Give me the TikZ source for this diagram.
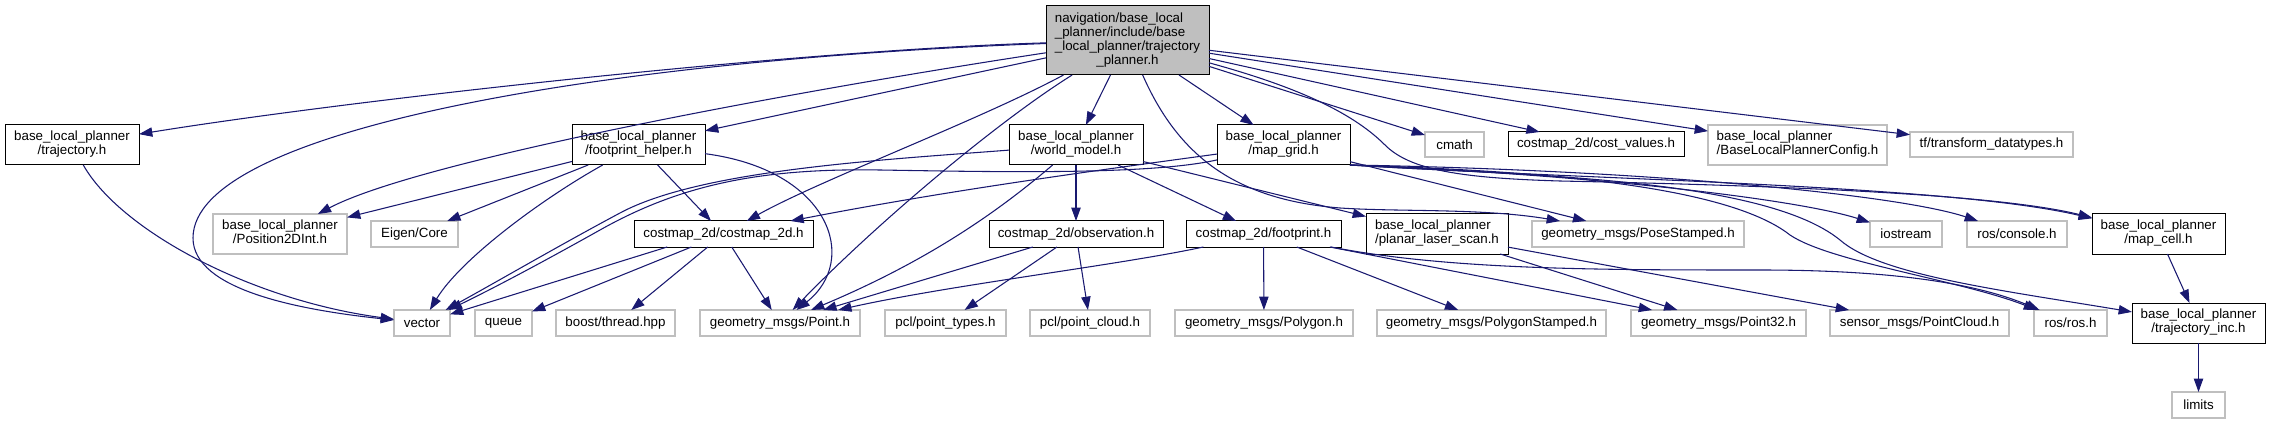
\documentclass[tikz,border=0pt]{standalone}
\usepackage{fontspec}
\setmainfont{Liberation Sans}
\usetikzlibrary{arrows.meta}
\definecolor{edgeblue}{HTML}{191970}
\definecolor{grey75}{HTML}{BFBFBF}
\newcommand{\hdrlines}[2]{\begin{tabular}{@{}l@{}}#1\\\multicolumn{1}{@{}c@{}}{#2}\end{tabular}}

\begin{document}
\begin{tikzpicture}[x=0.75pt,y=-0.75pt,
  hdr/.style 2 args={draw,rectangle,inner sep=0pt,outer sep=0pt,
    minimum width=#1*0.75pt,minimum height=#2*0.75pt,
    font=\fontsize{10}{10.5}\selectfont},
  doc/.style={draw=black,line width=0.75pt},
  ext/.style={draw=grey75,line width=1pt},
  dep/.style={edgeblue,line width=0.8pt,-{Triangle[length=10pt,width=7pt]}}]
\useasboundingbox (0,0) rectangle (2271,424);

\node[hdr={163}{69},doc,fill=grey75] (main) at (1127.5,40.5)
  {\hdrlines{navigation/base\_local\\\_planner/include/base\\\_local\_planner/trajectory}{\_planner.h}};

\node[hdr={134}{40},doc] (traj) at (72,145) {\hdrlines{base\_local\_planner}{/trajectory.h}};
\node[hdr={133}{40},doc] (fphelper) at (638.5,145) {\hdrlines{base\_local\_planner}{/footprint\_helper.h}};
\node[hdr={134}{40},doc] (world) at (1076,145) {\hdrlines{base\_local\_planner}{/world\_model.h}};
\node[hdr={133}{40},doc] (mapgrid) at (1283.5,145) {\hdrlines{base\_local\_planner}{/map\_grid.h}};
\node[hdr={59}{25},ext] (cmath) at (1454.5,144.5) {cmath};
\node[hdr={176}{25},doc] (costval) at (1596,144.5) {costmap\_2d/cost\_values.h};
\node[hdr={179}{40},ext] (blpconf) at (1797.5,145) {\hdrlines{base\_local\_planner}{/BaseLocalPlannerConfig.h}};
\node[hdr={163}{25},ext] (tfdata) at (1991.5,144.5) {tf/transform\_datatypes.h};

\node[hdr={134}{40},ext] (pos2d) at (280,234) {\hdrlines{base\_local\_planner}{/Position2DInt.h}};
\node[hdr={87}{26},ext] (eigen) at (414.5,234) {Eigen/Core};
\node[hdr={179}{26},doc] (costmap) at (723.5,234) {costmap\_2d/costmap\_2d.h};
\node[hdr={174}{26},doc] (observ) at (1076,234) {costmap\_2d/observation.h};
\node[hdr={155}{26},doc] (footprint) at (1263.5,234) {costmap\_2d/footprint.h};
\node[hdr={142}{40},doc] (planar) at (1437,234) {\hdrlines{base\_local\_planner}{/planar\_laser\_scan.h}};
\node[hdr={212}{26},ext] (posestamp) at (1638,234) {geometry\_msgs/PoseStamped.h};
\node[hdr={72}{26},ext] (iostream) at (1906,234) {iostream};
\node[hdr={100}{26},ext] (console) at (2017,234) {ros/console.h};
\node[hdr={133}{40},doc] (mapcell) at (2158.5,234) {\hdrlines{base\_local\_planner}{/map\_cell.h}};

\node[hdr={56}{26},ext] (vec) at (422,323) {vector};
\node[hdr={57}{26},ext] (queue) at (503.5,323) {queue};
\node[hdr={119}{26},ext] (boost) at (615.5,323) {boost/thread.hpp};
\node[hdr={160}{26},ext] (point) at (780,323) {geometry\_msgs/Point.h};
\node[hdr={121}{26},ext] (ptypes) at (945.5,323) {pcl/point\_types.h};
\node[hdr={120}{26},ext] (pcloud) at (1090,323) {pcl/point\_cloud.h};
\node[hdr={178}{26},ext] (polygon) at (1264,323) {geometry\_msgs/Polygon.h};
\node[hdr={229}{26},ext] (polystamp) at (1491.5,323) {geometry\_msgs/PolygonStamped.h};
\node[hdr={175}{26},ext] (point32) at (1718.5,323) {geometry\_msgs/Point32.h};
\node[hdr={179}{26},ext] (sensorpc) at (1919.5,323) {sensor\_msgs/PointCloud.h};
\node[hdr={73}{26},ext] (rosh) at (2070.5,323) {ros/ros.h};
\node[hdr={133}{40},doc] (trajinc) at (2198.5,323) {\hdrlines{base\_local\_planner}{/trajectory\_inc.h}};
\node[hdr={53}{26},ext] (limits) at (2198.5,405) {limits};

\foreach \a/\b in {main/fphelper,main/world,main/mapgrid,main/cmath,main/costval,main/blpconf,
    main/tfdata,fphelper/pos2d,fphelper/eigen,fphelper/costmap,costmap/queue,costmap/boost,
    costmap/point,world/observ,world/footprint,world/planar,observ/point,observ/ptypes,
    observ/pcloud,footprint/polygon,footprint/polystamp,footprint/point32,planar/point32,
    planar/sensorpc,mapgrid/posestamp,mapcell/trajinc,trajinc/limits}
  \draw[dep] (\a) -- (\b);

\draw[dep] (main) .. controls (800,50) and (350,100) .. (traj);
\draw[dep] (main) .. controls (600,60) and (193,130) .. (193,238) .. controls (193,290) and (300,310) .. (vec);
\draw[dep] (main) .. controls (800,90) and (420,160) .. (pos2d);
\draw[dep] (main) .. controls (980,120) and (820,180) .. (costmap);
\draw[dep] (main) .. controls (1000,120) and (880,220) .. (point);
\draw[dep] (main) .. controls (1180,160) and (1240,200) .. (1340,208) .. controls (1400,212) and (1482,208) .. (posestamp);
\draw[dep] (main) .. controls (1290,85) and (1350,110) .. (1385,145) .. controls (1410,170) and (1460,178) .. (1560,181)
  .. controls (1800,186) and (2000,195) .. (mapcell);

\draw[dep] (traj) .. controls (120,230) and (250,300) .. (vec);
\draw[dep] (fphelper) .. controls (540,200) and (460,260) .. (vec);
\draw[dep] (fphelper) .. controls (830,170) and (860,260) .. (point);
\draw[dep] (costmap.193) -- (vec);
\draw[dep] (world) .. controls (880,160) and (700,170) .. (620,213) .. controls (560,245) and (500,280) .. (vec);
\draw[dep] (world) .. controls (1000,210) and (930,260) .. (point);
\draw[dep] (footprint) .. controls (1120,265) and (950,285) .. (point);
\draw[dep] (footprint) .. controls (1450,270) and (1600,270) .. (1760,270) .. controls (1900,270) and (1980,285) .. (rosh);

\draw[dep] (mapgrid) .. controls (1150,175) and (1000,172) .. (880,170) .. controls (760,168) and (680,185) .. (600,230)
  .. controls (550,258) and (500,285) .. (vec);
\draw[dep] (mapgrid) .. controls (1100,170) and (950,190) .. (costmap);
\draw[dep] (mapgrid.south east) .. controls (1600,175) and (1800,200) .. (iostream);
\draw[dep] (mapgrid.south east) .. controls (1650,170) and (1900,195) .. (console);
\draw[dep] (mapgrid.south east) .. controls (1600,180) and (1950,185) .. (mapcell);
\draw[dep] (mapgrid.south east) .. controls (1500,175) and (1760,175) .. (1840,240) .. controls (1880,275) and (2000,290) .. (trajinc);
\draw[dep] (mapgrid.south east) .. controls (1500,170) and (1720,180) .. (1790,235) .. controls (1830,262) and (1960,280) .. (rosh);
\end{tikzpicture}
\end{document}
